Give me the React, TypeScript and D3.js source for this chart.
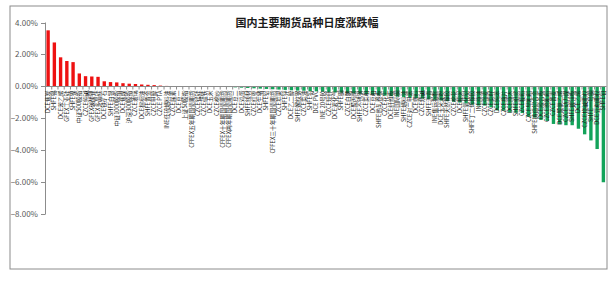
import React from "react";
import * as d3 from "d3";

const title = "国内主要期货品种日度涨跌幅";

const categories: string[] = [
  "DCE焦炭", "SHFE锡", "DCE苯乙烯", "GFEX工业硅", "SHFE镍", "中证500股指", "CZCE纯碱", "GFEX碳酸锂", "GFEX多晶硅", "DCE铁矿石",
  "SHFE白银", "中证1000股指", "DCE焦煤", "沪深300股指", "CZCE玻璃", "DCE棕榈油", "SHFE黄金", "CZCE甲醇", "CZCE PTA", "INE低硫燃料油",
  "CZCE尿素", "DCE豆一", "上证50股指", "CFFEX五年期国债期货", "CZCE锰硅", "CZCE硅铁", "DCE玉米", "CZCE棉纱", "CFFEX十年期国债期货", "CFFEX两年期国债期货",
  "DCE豆二", "DCE鸡蛋", "SHFE线材", "CZCE红枣", "DCE生猪", "SHFE铝", "CFFEX三十年期国债期货", "CZCE苹果", "SHFE锌", "DCE乙二醇",
  "SHFE螺纹钢", "CZCE菜油", "SHFE铅", "DCE PVC", "INE 20号胶", "CZCE短纤", "DCE液化气", "SHFE铜", "CZCE白糖", "DCE聚丙烯",
  "SHFE不锈钢", "CZCE菜粕", "DCE豆粕", "SHFE热轧卷板", "CZCE花生", "DCE纤维板", "INE国际铜", "SHFE燃料油", "CZCE对二甲苯", "DCE塑料",
  "CZCE烧碱", "SHFE沥青", "INE集运指数", "DCE玉米淀粉", "SHFE天然橡胶", "CZCE棉花", "DCE粳米", "SHFE氧化铝", "SHFE丁二烯橡胶", "INE原油",
  "CZCE强麦", "CZCE菜籽", "DCE纯苯", "CZCE瓶片", "DCE原木", "SHFE纸浆", "CZCE粳稻", "CZCE早籼稻", "SHFE铸造铝合金", "DCE胶合板",
  "CZCE晚籼稻", "CZCE普麦", "DCE聚氯乙烯", "CZCE动力煤", "SHFE镀锌板", "DCE乙烯", "CZCE烧碱期权", "SHFE一号铜", "DCE豆粕期权", "SHFE铂",
];

const values: number[] = [
  3.51, 2.75, 1.82, 1.59, 1.52, 0.81, 0.64, 0.62, 0.60, 0.32,
  0.27, 0.25, 0.20, 0.17, 0.15, 0.12, 0.10, 0.08, 0.05, 0.03,
  0.02, 0.01, 0.01, 0.0, 0.0, -0.01, -0.01, -0.02, -0.03, -0.04,
  -0.06, -0.08, -0.10, -0.12, -0.14, -0.16, -0.18, -0.20, -0.22, -0.24,
  -0.26, -0.27, -0.29, -0.31, -0.33, -0.35, -0.37, -0.39, -0.41, -0.43,
  -0.46, -0.49, -0.52, -0.55, -0.58, -0.61, -0.64, -0.67, -0.70, -0.73,
  -0.76, -0.80, -0.84, -0.88, -0.92, -0.96, -1.01, -1.06, -1.14, -1.20,
  -1.20, -1.31, -1.50, -1.52, -1.63, -1.65, -1.67, -1.90, -1.95, -2.10,
  -2.16, -2.35, -2.37, -2.43, -2.43, -2.65, -3.00, -3.38, -3.92, -6.00,
];

const yTicks: number[] = [4, 2, 0, -2, -4, -6, -8];

const W = 615;
const H = 281;

export default function App() {
  const x = d3.scaleBand<string>().domain(categories).range([45, 606.5]).paddingInner(0.46).paddingOuter(0.23);
  const y = d3.scaleLinear().domain([-8, 4]).range([214.2, 22.5]);
  const fmt = (v: number) => d3.format(".2f")(v) + "%";
  const y0 = y(0);
  const step = x.step();
  const font = "'Noto Sans CJK SC', 'Noto Sans', sans-serif";

  return (
    <div style={{ position: "absolute", left: 0, top: 0 }}>
      <svg width={W} height={H} style={{ display: "block", background: "#fff" }}>
        <rect x={10} y={6} width={597} height={263} fill="#fff" stroke="#8c8c8c" strokeWidth={1} />
        <text x={307} y={27} textAnchor="middle" fontSize={11} fontWeight="bold" fontFamily={font} fill="#1a1a1a">
          {title}
        </text>
        {/* y axis */}
        <line x1={45.5} x2={45.5} y1={y(4)} y2={y(-8)} stroke="#8c8c8c" />
        {yTicks.map((t) => (
          <g key={t}>
            <line x1={41} x2={45.5} y1={Math.round(y(t)) + 0.5} y2={Math.round(y(t)) + 0.5} stroke="#8c8c8c" />
            <text x={38} y={y(t) + 3} textAnchor="end" fontSize={8} fontFamily={font} fill="#595959">
              {fmt(t)}
            </text>
          </g>
        ))}
        {/* bars */}
        {categories.map((c, i) => {
          const v = values[i];
          const top = v >= 0 ? y(v) : y0;
          const h = Math.abs(y(v) - y0);
          return (
            <rect key={c + i} x={x(c)!} y={top} width={x.bandwidth()} height={h} fill={v >= 0 ? "#ee1111" : "#13a35a"} />
          );
        })}
        {/* x axis */}
        <line x1={45} x2={606.5} y1={Math.round(y0) + 0.5} y2={Math.round(y0) + 0.5} stroke="#8c8c8c" />
        {categories.map((c, i) => {
          const bx = 45 + i * step;
          return <line key={"t" + i} x1={bx + 0.5} x2={bx + 0.5} y1={Math.round(y0)} y2={Math.round(y0) + 3.5} stroke="#8c8c8c" />;
        })}
        {categories.map((c, i) => {
          const cx = x(c)! + x.bandwidth() / 2;
          return (
            <text
              key={"l" + i}
              transform={`translate(${cx + 2},${y0 + 4}) rotate(-90)`}
              textAnchor="end"
              fontSize={5.8}
              fontFamily={font}
              fill="#1f1f1f"
            >
              {c}
            </text>
          );
        })}
      </svg>
    </div>
  );
}
